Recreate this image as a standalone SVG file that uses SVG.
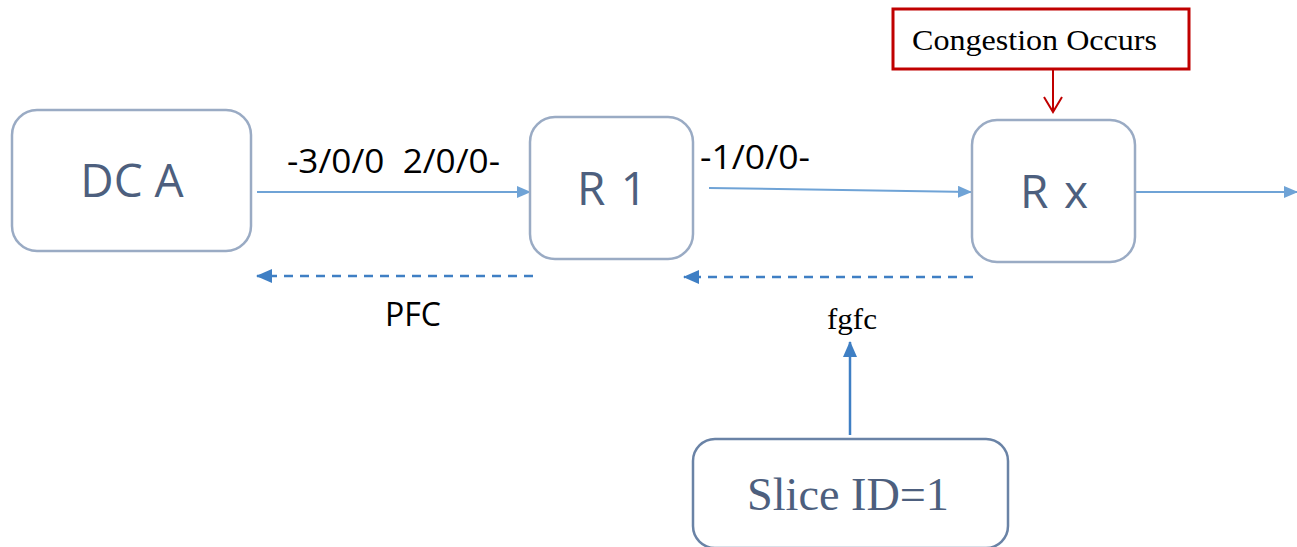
<svg xmlns="http://www.w3.org/2000/svg" width="1297" height="547" viewBox="0 0 1297 547">
<style>
.node{fill:#fff;stroke:#9aabc4;stroke-width:2.5}
.ntext{font-family:"Open Sans","Noto Sans",sans-serif;font-size:46px;fill:#4d5f7e;text-anchor:middle}
.lbl{font-family:"Open Sans","Noto Sans",sans-serif;font-size:32px;fill:#000;white-space:pre}
.solid{stroke:#6fa3d6;stroke-width:2;fill:none}
.dash{stroke:#3f7fc4;stroke-width:2.5;fill:none;stroke-dasharray:9,7}
.serif{font-family:"Liberation Serif",serif;fill:#000}
</style>
<defs>
<marker id="ah" markerWidth="14" markerHeight="12" refX="13" refY="6" orient="auto" markerUnits="userSpaceOnUse">
<path d="M0,0 L14,6 L0,12 Z" fill="#6fa3d6"/>
</marker>
<marker id="ahd" markerWidth="16" markerHeight="14" refX="15" refY="7" orient="auto" markerUnits="userSpaceOnUse">
<path d="M0,0 L16,7 L0,14 Z" fill="#3f7fc4"/>
</marker>
</defs>
<g id="connectors">
<line class="solid" x1="257" y1="192" x2="530" y2="192" marker-end="url(#ah)"/>
<line class="solid" x1="709" y1="188" x2="971" y2="192" marker-end="url(#ah)"/>
<line class="solid" x1="1136" y1="192" x2="1297" y2="192" marker-end="url(#ah)"/>
<line class="dash" x1="533" y1="276" x2="257" y2="276" marker-end="url(#ahd)"/>
<line class="dash" x1="973" y1="277" x2="684" y2="277" marker-end="url(#ahd)"/>
<line x1="850" y1="435" x2="850" y2="342" stroke="#3f7fc4" stroke-width="2.5" marker-end="url(#ahd)"/>
<path d="M1053,69 L1053,112" stroke="#c00000" stroke-width="2" fill="none"/>
<path d="M1044,97 L1053,112 L1062,97" stroke="#c00000" stroke-width="2" fill="none"/>
<text class="lbl" x="287" y="173" textLength="213" lengthAdjust="spacingAndGlyphs" xml:space="preserve">-3/0/0  2/0/0-</text>
<text class="lbl" x="700" y="169" textLength="110" lengthAdjust="spacingAndGlyphs">-1/0/0-</text>
<text class="lbl" x="385" y="326" textLength="56" lengthAdjust="spacingAndGlyphs">PFC</text>
<text class="serif" x="827" y="329" font-size="30" textLength="50" lengthAdjust="spacingAndGlyphs">fgfc</text>
</g>
<g id="dca">
<rect class="node" x="12" y="110" width="239" height="141" rx="25"/>
<text class="ntext" x="132" y="197">DC A</text>
</g>
<g id="r1">
<rect class="node" x="530" y="117" width="163" height="142" rx="25"/>
<text class="ntext" x="612" y="205" textLength="70" lengthAdjust="spacing">R 1</text>
</g>
<g id="rx">
<rect class="node" x="972" y="120" width="163" height="142" rx="25"/>
<text class="ntext" x="1054" y="208" textLength="68" lengthAdjust="spacing">R x</text>
</g>
<g id="congestion">
<rect x="893" y="9" width="296" height="60" fill="#fff" stroke="#c00000" stroke-width="3"/>
<text class="serif" x="912" y="50" font-size="30" textLength="245" lengthAdjust="spacingAndGlyphs">Congestion Occurs</text>
</g>
<g id="slice">
<rect x="693" y="439" width="315" height="109" rx="22" fill="#fff" stroke="#6a83a6" stroke-width="2.5"/>
<text x="747" y="510" font-family="Liberation Serif,serif" font-size="46" fill="#4d5f7e" textLength="202" lengthAdjust="spacingAndGlyphs">Slice ID=1</text>
</g>
</svg>
